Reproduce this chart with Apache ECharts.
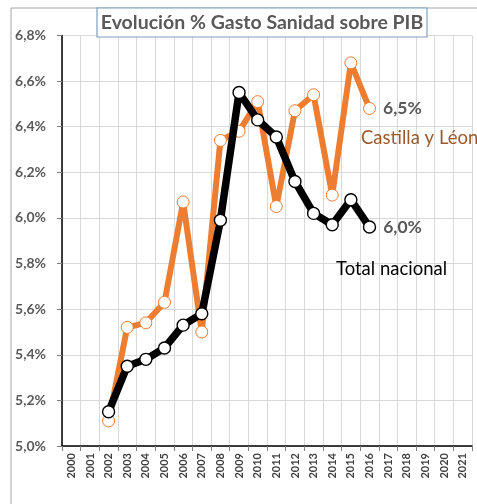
<!DOCTYPE html>
<html>
<head>
<meta charset="utf-8">
<script src="https://cdn.jsdelivr.net/npm/echarts@6/dist/echarts.min.js"></script>
<style>html,body{margin:0;padding:0;background:#fff}#c{width:477px;height:504px}</style>
</head>
<body>
<div id="c"></div>
<script>
const years = ['2000','2001','2002','2003','2004','2005','2006','2007','2008','2009','2010','2011','2012','2013','2014','2015','2016','2017','2018','2019','2020','2021'];
const castillaLeon = [null,null,5.11,5.52,5.54,5.63,6.07,5.50,6.34,6.38,6.51,6.05,6.47,6.54,6.10,6.68,6.48,null,null,null,null,null];
const totalNacional = [null,null,5.15,5.35,5.38,5.43,5.53,5.58,5.99,6.55,6.43,6.355,6.16,6.02,5.97,6.08,5.96,null,null,null,null,null];
const yTicks = [5.0,5.2,5.4,5.6,5.8,6.0,6.2,6.4,6.6,6.8];
const titleText = 'Evolución % Gasto Sanidad sobre PIB';
const endLabels = ['6,5%','6,0%'];
const seriesNames = ['Castilla y Léon','Total nacional'];

const FONT = 'Lato, "Open Sans", sans-serif';
const chart = echarts.init(document.getElementById('c'), null, {renderer:'canvas'});

function withEndLabel(arr, text){
  let last = -1;
  arr.forEach((v,i)=>{ if(v!=null) last=i; });
  return arr.map((v,i)=> i===last ? {value:v, label:{show:true, position:'right', distance:7, formatter:text, fontFamily:FONT, fontWeight:'bold', fontSize:17.5, color:'#595959'}} : v);
}

chart.setOption({
  animation:false,
  backgroundColor:'#fff',
  grid:{left:62, right:5, top:35.5, bottom:58},
  xAxis:{
    type:'category', data:years, boundaryGap:true,
    axisLine:{lineStyle:{color:'#000', width:1.5}},
    axisTick:{show:true, alignWithLabel:false, length:5, lineStyle:{color:'#808080'}},
    axisLabel:{rotate:90, fontFamily:FONT, fontWeight:'bold', fontSize:11, color:'#404040', margin:7, interval:0},
    splitLine:{show:true, interval:0, lineStyle:{color:'#d9d9d9', width:1}}
  },
  yAxis:{
    type:'value', min:5.0, max:6.8, interval:0.2,
    axisLine:{show:true, lineStyle:{color:'#000', width:1.5}},
    axisTick:{show:true, length:5, lineStyle:{color:'#808080'}},
    axisLabel:{fontFamily:FONT, fontWeight:'bold', fontSize:14, color:'#595959', margin:16,
      formatter:v=>v.toFixed(1).replace('.',',')+'%'},
    splitLine:{lineStyle:{color:'#d9d9d9', width:1}}
  },
  series:[
    {name:seriesNames[0], type:'line', data:withEndLabel(castillaLeon, endLabels[0]),
     lineStyle:{color:'#ED7D31', width:6}, itemStyle:{color:'#fff', borderColor:'#ED7D31', borderWidth:1},
     symbol:'circle', symbolSize:12, showAllSymbol:true, z:2},
    {name:seriesNames[1], type:'line', data:withEndLabel(totalNacional, endLabels[1]),
     lineStyle:{color:'#000', width:7.5}, itemStyle:{color:'#fff', borderColor:'#000', borderWidth:1.4},
     symbol:'circle', symbolSize:12, showAllSymbol:true, z:3}
  ],
  graphic:[
    {type:'rect', shape:{x:11, y:8, width:520, height:520}, style:{fill:null, stroke:'#a6a6a6', lineWidth:1}, silent:true, z:-1},
    {type:'rect', shape:{x:97, y:8, width:330, height:29}, style:{fill:'#fff', stroke:'#7f9fc0', lineWidth:1.2}, z:10},
    {type:'text', x:262, y:23, style:{text:titleText, fontFamily:FONT, fontWeight:'bold', fontSize:19.5, fill:'#595959', textAlign:'center', textVerticalAlign:'middle'}, z:11},
    {type:'text', x:361, y:138, style:{text:seriesNames[0], fontFamily:FONT, fontSize:18.5, fill:'#9c5a2a', textAlign:'left', textVerticalAlign:'middle'}, z:11},
    {type:'text', x:336, y:269, style:{text:seriesNames[1], fontFamily:FONT, fontSize:18.5, fill:'#000', textAlign:'left', textVerticalAlign:'middle'}, z:11}
  ]
});
</script>
</body>
</html>
